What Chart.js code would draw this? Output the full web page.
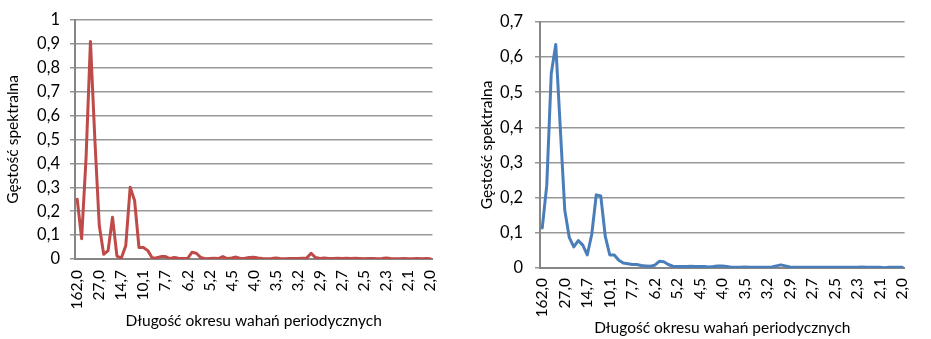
<!DOCTYPE html>
<html>
<head>
<meta charset="utf-8">
<script src="https://cdn.jsdelivr.net/npm/chart.js@4"></script>
<style>
  body { margin: 0; background: #fff; }
  canvas { position: absolute; top: 0; }
  #left-chart { left: 0; }
  #right-chart { left: 470px; }
</style>
</head>
<body>
<canvas id="left-chart" width="460" height="339"></canvas>
<canvas id="right-chart" width="461" height="339"></canvas>
<script>
// period length (162/k), k = 1..81
const periods = [
  '162,0','81,0','54,0','40,5','32,4','27,0','23,1','20,3','18,0','16,2',
  '14,7','13,5','12,5','11,6','10,8','10,1','9,5','9,0','8,5','8,1',
  '7,7','7,4','7,0','6,8','6,5','6,2','6,0','5,8','5,6','5,4',
  '5,2','5,1','4,9','4,8','4,6','4,5','4,4','4,3','4,2','4,1',
  '4,0','3,9','3,8','3,7','3,6','3,5','3,4','3,4','3,3','3,2',
  '3,2','3,1','3,1','3,0','2,9','2,9','2,8','2,8','2,7','2,7',
  '2,7','2,6','2,6','2,5','2,5','2,5','2,4','2,4','2,3','2,3',
  '2,3','2,3','2,2','2,2','2,2','2,1','2,1','2,1','2,1','2,0',
  '2,0'
];

// spectral density, left chart
const leftDensity = [
  0.25, 0.085, 0.42, 0.91, 0.50, 0.14, 0.02, 0.035, 0.175, 0.012,
  0.004, 0.055, 0.30, 0.245, 0.048, 0.048, 0.035, 0.004, 0.005, 0.01,
  0.01, 0.002, 0.006, 0.003, 0.002, 0.002, 0.028, 0.024, 0.006, 0.001,
  0.002, 0.003, 0.002, 0.01, 0.002, 0.004, 0.008, 0.002, 0.003, 0.006,
  0.007, 0.004, 0.002, 0.001, 0.002, 0.004, 0.002, 0.001, 0.002, 0.002,
  0.002, 0.003, 0.004, 0.024, 0.006, 0.002, 0.004, 0.002, 0.002, 0.003,
  0.002, 0.003, 0.002, 0.003, 0.002, 0.001, 0.002, 0.002, 0.001, 0.002,
  0.004, 0.002, 0.001, 0.001, 0.002, 0.001, 0.001, 0.002, 0.001, 0.002,
  0.001
];

// spectral density, right chart
const rightDensity = [
  0.114, 0.235, 0.553, 0.636, 0.40, 0.165, 0.087, 0.06, 0.078, 0.065,
  0.037, 0.096, 0.208, 0.205, 0.09, 0.037, 0.037, 0.022, 0.014, 0.012,
  0.010, 0.010, 0.007, 0.006, 0.005, 0.008, 0.019, 0.018, 0.010, 0.005,
  0.004, 0.004, 0.004, 0.005, 0.004, 0.004, 0.004, 0.003, 0.004, 0.006,
  0.006, 0.004, 0.002, 0.002, 0.002, 0.003, 0.002, 0.002, 0.002, 0.002,
  0.002, 0.003, 0.006, 0.009, 0.006, 0.003, 0.002, 0.002, 0.002, 0.002,
  0.002, 0.002, 0.002, 0.002, 0.002, 0.002, 0.002, 0.002, 0.002, 0.002,
  0.002, 0.003, 0.002, 0.002, 0.002, 0.002, 0.001, 0.002, 0.002, 0.002,
  0.002
];

const leftMax = 1;
const rightMax = 0.7;
const yStep = 0.1;
const labelEvery = 5;

Chart.defaults.font.family = 'Lato, "Open Sans", sans-serif';
Chart.defaults.color = '#000';

function plNumber(v) {
  return String(Number(v.toFixed(1))).replace('.', ',');
}

function makeChart(id, values, color, yMax, o) {
  return new Chart(document.getElementById(id), {
    type: 'line',
    data: {
      labels: periods,
      datasets: [{
        data: values,
        borderColor: color,
        borderWidth: 3,
        pointRadius: 0,
        borderJoinStyle: 'round',
        borderCapStyle: 'round',
        tension: 0
      }]
    },
    options: {
      responsive: false,
      animation: false,
      layout: { padding: { top: o.top, right: o.right, left: 0, bottom: 0 } },
      plugins: { legend: { display: false }, tooltip: { enabled: false } },
      scales: {
        x: {
          offset: true,
          grid: { display: false, drawTicks: false },
          border: { display: true, color: '#868686', width: 2 },
          ticks: {
            autoSkip: false,
            minRotation: 90,
            maxRotation: 90,
            padding: o.xPad,
            font: { size: 15.5 },
            callback: function (v, i) {
              return i % labelEvery === 0 ? this.getLabelForValue(v) : null;
            }
          },
          title: {
            display: true,
            text: 'Długość okresu wahań periodycznych',
            font: { size: 15.5 },
            padding: { top: 0, bottom: o.xTitlePad }
          },
          afterFit: s => { s.height = o.xHeight; }
        },
        y: {
          min: 0,
          max: yMax,
          ticks: {
            stepSize: yStep,
            padding: o.yPad,
            font: { size: 16.5 },
            callback: v => plNumber(v)
          },
          grid: { color: '#979797', lineWidth: 1.5, tickLength: 5 },
          border: { display: true, color: '#868686', width: 2 },
          title: {
            display: true,
            text: 'Gęstość spektralna',
            font: { size: 15.5 },
            padding: { top: o.yTitlePad, bottom: 0 }
          },
          afterFit: s => { s.width = o.yWidth; }
        }
      }
    }
  });
}

const leftChart = makeChart('left-chart', leftDensity, '#be4b48', leftMax, {
  top: 16, right: 21, yWidth: 75, xHeight: 80, xPad: 11, yPad: 10, xTitlePad: 8.7, yTitlePad: 4
});

const rightChart = makeChart('right-chart', rightDensity, '#4a7ebb', rightMax, {
  top: 13, right: 7, yWidth: 70, xHeight: 71, xPad: 10, yPad: 12, xTitlePad: 1.4, yTitlePad: 7.4
});
</script>
</body>
</html>
